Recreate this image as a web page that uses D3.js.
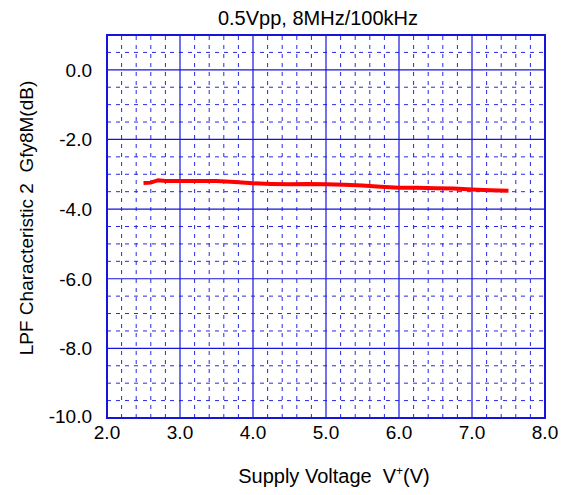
<!DOCTYPE html>
<html>
<head>
<meta charset="utf-8">
<title>LPF Characteristic 2</title>
<style>
  body { margin: 0; background: #fff; }
  text { font-family: "Liberation Sans", Arial, sans-serif; fill: #000; white-space: pre; }
  .minor { stroke: #2828e6; stroke-width: 1; stroke-dasharray: 4,5; }
  .major { stroke: #1414dc; stroke-width: 1.2; }
</style>
</head>
<body>
<svg width="565" height="495"></svg>
<script src="https://d3js.org/d3.v7.min.js"></script>
<script>
// data
var voltage = [2.5, 2.6, 2.7, 2.8, 3.0, 3.25, 3.5, 3.75, 4.0, 4.25, 4.5, 4.75, 5.0, 5.25, 5.5, 5.75, 6.0, 6.25, 6.5, 6.75, 7.0, 7.25, 7.5];
var gain = [-3.25, -3.24, -3.17, -3.19, -3.19, -3.19, -3.19, -3.22, -3.26, -3.28, -3.29, -3.28, -3.29, -3.30, -3.32, -3.36, -3.39, -3.39, -3.40, -3.41, -3.44, -3.46, -3.47];
var xTicks = [2, 3, 4, 5, 6, 7, 8];
var yTicks = [0, -2, -4, -6, -8, -10];

var svg = d3.select("svg");
var pl = 107, pr = 545, pt = 35, pb = 418;

var x = d3.scaleLinear().domain([2, 8]).range([pl, pr]);
var y = d3.scaleLinear().domain([-10, 1]).range([pb, pt]);

// minor grid
var xMinor = d3.range(2, 8.001, 0.2).filter(function(v) { return Math.abs(v - Math.round(v)) > 0.01; });
var yMinor = d3.range(-10, 1.001, 0.5).filter(function(v) { return Math.abs(v / 2 - Math.round(v / 2)) > 0.01 && v < 0.99; });

svg.append("g").selectAll("line").data(xMinor).enter().append("line")
    .attr("class", "minor")
    .attr("x1", function(d) { return x(d); }).attr("x2", function(d) { return x(d); })
    .attr("y1", pb).attr("y2", pt);
svg.append("g").selectAll("line").data(yMinor).enter().append("line")
    .attr("class", "minor")
    .attr("x1", pl).attr("x2", pr)
    .attr("y1", function(d) { return y(d); }).attr("y2", function(d) { return y(d); });

// major grid
svg.append("g").selectAll("line").data(xTicks).enter().append("line")
    .attr("class", "major")
    .attr("x1", function(d) { return x(d); }).attr("x2", function(d) { return x(d); })
    .attr("y1", pb).attr("y2", pt);
svg.append("g").selectAll("line").data(yTicks).enter().append("line")
    .attr("class", "major")
    .attr("x1", pl).attr("x2", pr)
    .attr("y1", function(d) { return y(d); }).attr("y2", function(d) { return y(d); });

// frame
svg.append("rect")
    .attr("x", pl).attr("y", pt)
    .attr("width", pr - pl).attr("height", pb - pt)
    .attr("fill", "none").attr("stroke", "#1414dc").attr("stroke-width", 2);

// tick labels
svg.append("g").selectAll("text").data(xTicks).enter().append("text")
    .attr("x", function(d) { return x(d); })
    .attr("y", 439)
    .attr("text-anchor", "middle")
    .style("font-size", "19px")
    .text(function(d) { return d3.format(".1f")(d); });
svg.append("g").selectAll("text").data(yTicks).enter().append("text")
    .attr("x", 92)
    .attr("y", function(d) { return d == -10 ? y(d) + 5 : y(d) + 7; })
    .attr("text-anchor", "end")
    .style("font-size", "19px")
    .text(function(d) { return d3.format(".1f")(d).replace("\u2212", "-"); });

// the curve
var line = d3.line()
    .x(function(d, i) { return x(voltage[i]); })
    .y(function(d) { return y(d); });
svg.append("path")
    .datum(gain)
    .attr("d", line)
    .attr("fill", "none")
    .attr("stroke", "#ff0000")
    .attr("stroke-width", 4);

// titles
svg.append("text")
    .attr("x", 318).attr("y", 25)
    .attr("text-anchor", "middle")
    .style("font-size", "20px")
    .text("0.5Vpp, 8MHz/100kHz");

var xt = svg.append("text")
    .attr("x", 334).attr("y", 483)
    .attr("text-anchor", "middle")
    .style("font-size", "20px");
xt.append("tspan").text("Supply Voltage  V");
xt.append("tspan").attr("dy", -8).style("font-size", "12px").text("+");
xt.append("tspan").attr("dy", 8).text("(V)");

svg.append("text")
    .attr("transform", "translate(33,218) rotate(-90)")
    .attr("text-anchor", "middle")
    .style("font-size", "19px")
    .text("LPF Characteristic 2  Gfy8M(dB)");
</script>
</body>
</html>
